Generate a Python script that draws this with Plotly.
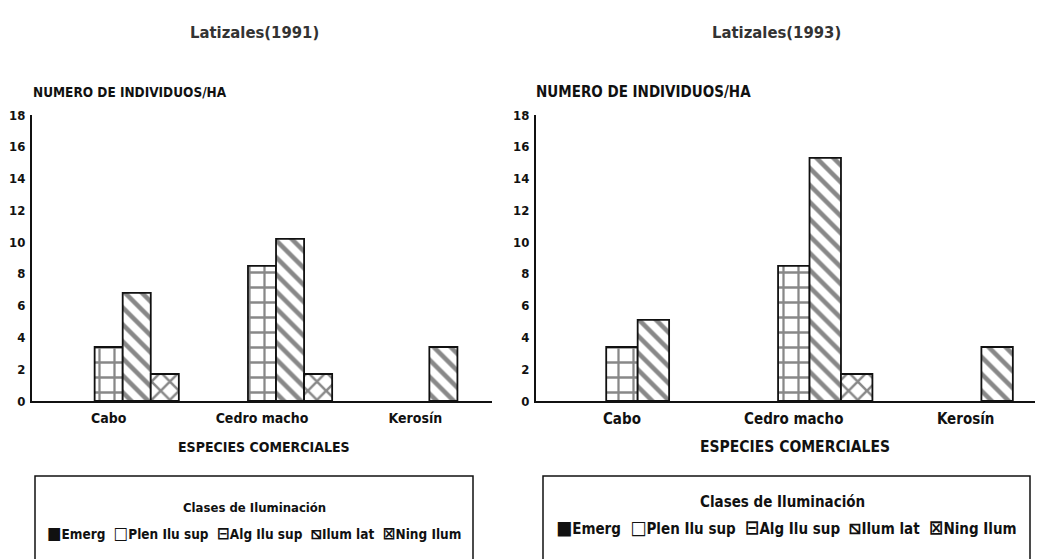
import plotly.graph_objects as go

# ---------------- data ----------------
species = ["Cabo", "Cedro macho", "Kerosín"]
classes = ["Emerg", "Plen Ilu sup", "Alg Ilu sup", "Ilum lat", "Ning Ilum"]
class_glyphs = ["■", "□", "⊟", "⧅", "⊠"]
titles = ["Latizales(1991)", "Latizales(1993)"]
y_ticks = [0, 2, 4, 6, 8, 10, 12, 14, 16, 18]

emerg_1991 = [0, 0, 0]
plen_1991 = [0, 0, 0]
alg_1991 = [3.4, 8.5, 0]
ilum_1991 = [6.8, 10.2, 3.4]
ning_1991 = [1.7, 1.7, 0]

emerg_1993 = [0, 0, 0]
plen_1993 = [0, 0, 0]
alg_1993 = [3.4, 8.5, 0]
ilum_1993 = [5.1, 15.3, 3.4]
ning_1993 = [0, 1.7, 0]

# ---------------- styles ----------------
PAGE_W, PAGE_H = 1043, 559
OFF = 8  # default body margin of the html page
W, H = PAGE_W - OFF, PAGE_H - OFF
FONT = "DejaVu Sans Condensed, Liberation Sans Narrow, DejaVu Sans, Liberation Sans, sans-serif"
INK = "#111111"

styles = {
    "Emerg": dict(color=INK, pattern=dict(shape="")),
    "Plen Ilu sup": dict(color="white", pattern=dict(shape="")),
    "Alg Ilu sup": dict(color="white", pattern=dict(shape="+", fgcolor=INK, bgcolor="white", size=15, solidity=0.28)),
    "Ilum lat": dict(color="white", pattern=dict(shape="\\", fgcolor=INK, bgcolor="white", size=12, solidity=0.38)),
    "Ning Ilum": dict(color="white", pattern=dict(shape="x", fgcolor=INK, bgcolor="white", size=13, solidity=0.35)),
}


def px_x(p):
    return (p - OFF) / W


def px_y(p):
    return (PAGE_H - p) / H


def clean(vals):
    return [v if v > 0 else None for v in vals]


fig = go.Figure()

series_1991 = [emerg_1991, plen_1991, alg_1991, ilum_1991, ning_1991]
series_1993 = [emerg_1993, plen_1993, alg_1993, ilum_1993, ning_1993]

for (series, xa, ya) in [(series_1991, "x", "y"), (series_1993, "x2", "y2")]:
    for name, vals in zip(classes, series):
        st = styles[name]
        fig.add_trace(go.Bar(
            x=species, y=clean(vals), name=name, xaxis=xa, yaxis=ya,
            marker=dict(color=st["color"], pattern=st["pattern"],
                        line=dict(color=INK, width=1.8)),
            showlegend=False,
        ))


def tf(size):
    return dict(family=FONT, size=size, color=INK, weight="bold")


y_dom = [px_y(401), px_y(115)]

common_x = dict(showline=True, linecolor=INK, linewidth=2, showgrid=False, ticks="",
                ticklabelstandoff=3)
common_y = dict(range=[0, 18], tickvals=y_ticks, showline=True, linecolor=INK, linewidth=2,
                showgrid=False, zeroline=False, ticks="", ticklabelstandoff=2, domain=y_dom)

fig.update_layout(
    width=W, height=H,
    margin=dict(l=0, r=0, t=0, b=0, autoexpand=False),
    paper_bgcolor="white", plot_bgcolor="white",
    barmode="group", bargap=0.085, bargroupgap=0,
    font=dict(family=FONT, color=INK),
    showlegend=False,
    xaxis=dict(domain=[px_x(32), px_x(492)], range=[-0.5, 2.5], anchor="y",
               tickfont=tf(14), **common_x),
    yaxis=dict(anchor="x", tickfont=tf(13), **common_y),
    xaxis2=dict(domain=[px_x(536), 1.0], range=[-0.5, 2.45], anchor="y2",
                tickfont=tf(15), **common_x),
    yaxis2=dict(anchor="x2", tickfont=tf(13), **common_y),
)


def legend_text(big):
    parts = []
    for g, n in zip(class_glyphs, classes):
        parts.append("<span style='font-size:%dpx'>%s</span>%s" % (big, g, n))
    return "  ".join(parts)


annotations = [
    dict(text=titles[0], x=px_x(254), y=px_y(32), font=dict(family=FONT, size=16.5, color="#333", weight="bold")),
    dict(text=titles[1], x=px_x(776), y=px_y(32), font=dict(family=FONT, size=16.5, color="#333", weight="bold")),
    dict(text="NUMERO DE INDIVIDUOS/HA", x=px_x(31), y=px_y(92), xanchor="left", font=tf(13.5)),
    dict(text="NUMERO DE INDIVIDUOS/HA", x=px_x(534), y=px_y(92), xanchor="left", font=tf(15)),
    dict(text="ESPECIES COMERCIALES", x=px_x(264), y=px_y(447), font=tf(14)),
    dict(text="ESPECIES COMERCIALES", x=px_x(795), y=px_y(447), font=tf(15.5)),
    dict(text="Clases de Iluminación", x=px_x(254), y=px_y(507), font=tf(13)),
    dict(text="Clases de Iluminación", x=px_x(782), y=px_y(502), font=tf(15)),
    dict(text=legend_text(17), x=px_x(254), y=px_y(533), font=tf(13.5)),
    dict(text=legend_text(19), x=px_x(786), y=px_y(527), font=tf(15)),
]
for a in annotations:
    a.update(xref="paper", yref="paper", showarrow=False)
    a.setdefault("xanchor", "center")
    a["yanchor"] = "middle"
fig.update_layout(annotations=annotations)

shapes = [
    dict(type="rect", xref="paper", yref="paper", x0=px_x(35), x1=px_x(473),
         y0=px_y(575), y1=px_y(476), line=dict(color=INK, width=1.5), fillcolor="rgba(0,0,0,0)"),
    dict(type="rect", xref="paper", yref="paper", x0=px_x(543), x1=px_x(1030),
         y0=px_y(575), y1=px_y(476), line=dict(color=INK, width=1.5), fillcolor="rgba(0,0,0,0)"),
]
fig.update_layout(shapes=shapes)

fig.write_html("out.html")
